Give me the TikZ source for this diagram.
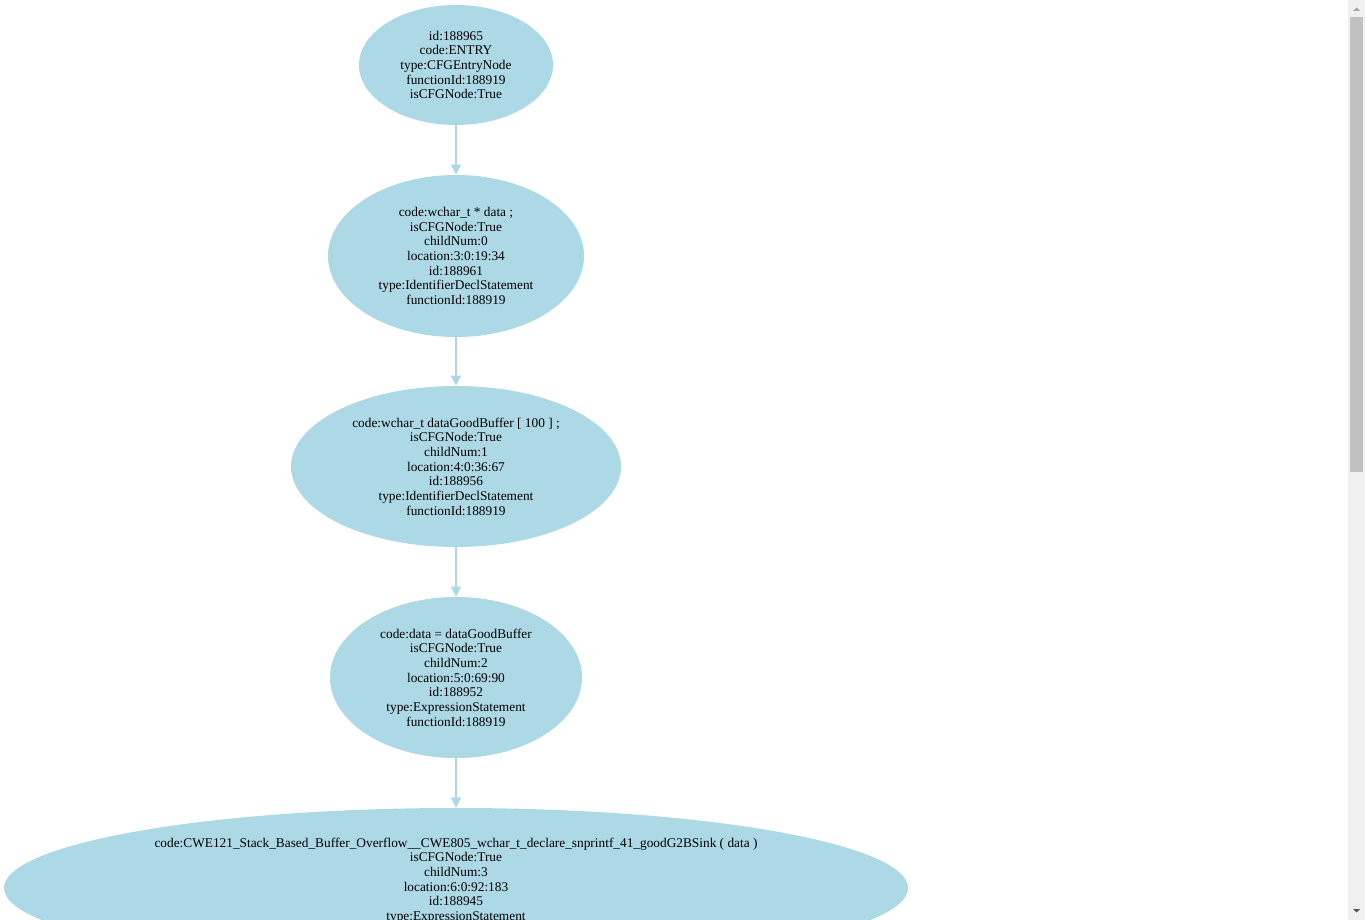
\documentclass[tikz,border=0pt]{standalone}
\usepackage{fontspec}
\setmainfont{Liberation Serif}
\usetikzlibrary{shapes.geometric,arrows.meta}
\definecolor{lb}{HTML}{ADD8E6}
\definecolor{track}{HTML}{F0F0F0}
\definecolor{thumb}{HTML}{C1C1C1}
\definecolor{arrowup}{HTML}{A3A3A3}
\definecolor{arrowdn}{HTML}{505050}
\begin{document}
\begin{tikzpicture}[x=0.75pt,y=-0.75pt,
  cfg/.style={ellipse, fill=lb, inner sep=0pt, align=center, font=\fontsize{10}{11}\selectfont},
  lbl/.style={inner sep=0pt, align=center, font=\fontsize{10}{11}\selectfont},
  edge/.style={draw=lb, line width=1.1pt, -{Triangle[length=7.5pt,width=7.5pt]}}]
\useasboundingbox (0,0) rectangle (1365,920);
\clip (0,0) rectangle (1365,920);
\fill[white] (0,0) rectangle (1365,920);
% scrollbar
\fill[track] (1348,0) rectangle (1365,920);
\fill[thumb] (1350,17) rectangle (1363,472);
\fill[arrowup] (1353,11) -- (1360,11) -- (1356.5,7.5) -- cycle;
\fill[arrowdn] (1353,909) -- (1360,909) -- (1356.5,912.5) -- cycle;
% nodes
\node[cfg, minimum width=145.5pt, minimum height=90pt] (n1) at (456,65)
  {id:188965\\code:ENTRY\\type:CFGEntryNode\\functionId:188919\\isCFGNode:True};
\node[cfg, minimum width=192pt, minimum height=121.5pt] (n2) at (456,256)
  {code:wchar\_t * data ;\\isCFGNode:True\\childNum:0\\location:3:0:19:34\\id:188961\\type:IdentifierDeclStatement\\functionId:188919};
\node[cfg, minimum width=247.5pt, minimum height=120.75pt] (n3) at (456,466.5)
  {code:wchar\_t dataGoodBuffer [ 100 ] ;\\isCFGNode:True\\childNum:1\\location:4:0:36:67\\id:188956\\type:IdentifierDeclStatement\\functionId:188919};
\node[cfg, minimum width=189pt, minimum height=120.75pt] (n4) at (456,677.5)
  {code:data = dataGoodBuffer\\isCFGNode:True\\childNum:2\\location:5:0:69:90\\id:188952\\type:ExpressionStatement\\functionId:188919};
\node[cfg, minimum width=678pt, minimum height=120pt] (n5) at (456,888) {};
\node[lbl] (t5) at (456,880.5)
  {code:CWE121\_Stack\_Based\_Buffer\_Overflow\_\_CWE805\_wchar\_t\_declare\_snprintf\_41\_goodG2BSink ( data )\\isCFGNode:True\\childNum:3\\location:6:0:92:183\\id:188945\\type:ExpressionStatement};
% edges
\draw[edge] (n1.south) -- (n2.north);
\draw[edge] (n2.south) -- (n3.north);
\draw[edge] (n3.south) -- (n4.north);
\draw[edge] (n4.south) -- (n5.north);
\end{tikzpicture}
\end{document}
